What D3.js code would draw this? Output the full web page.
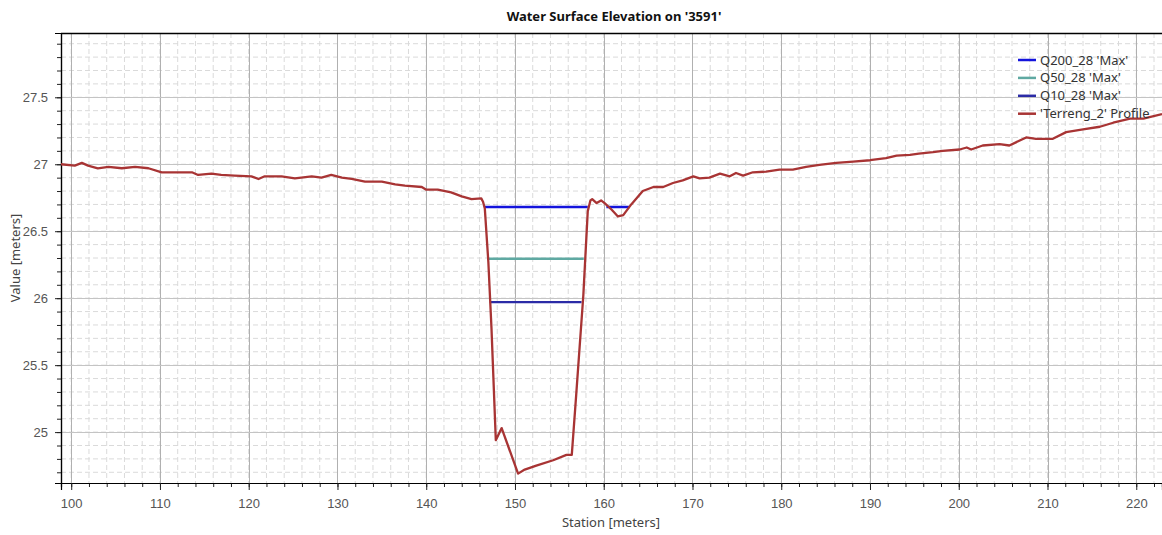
<!DOCTYPE html>
<html>
<head>
<meta charset="utf-8">
<script src="https://cdn.jsdelivr.net/npm/d3@7"></script>
<style>
  html, body { margin: 0; padding: 0; background: #fff; }
  svg { display: block; font-family: "Noto Sans", "Open Sans", sans-serif; }
</style>
</head>
<body>
<svg id="chart" width="1162" height="535"></svg>
<script>
// ---------- DATA ----------
const chartTitle = "Water Surface Elevation on '3591'";
const xAxisTitle = "Station [meters]";
const yAxisTitle = "Value [meters]";

const xTickValues = [100, 110, 120, 130, 140, 150, 160, 170, 180, 190, 200, 210, 220];
const yTickValues = [25, 25.5, 26, 26.5, 27, 27.5];

// Terrain profile 'Terreng_2'
const terrainStation = [
  98.85, 100.4, 101.2, 101.9, 103.0, 104.2, 105.7, 107.2, 108.7, 110.2,
  111.7, 113.6, 114.3, 115.8, 116.9, 118.4, 120.3, 121.1, 121.8, 123.7,
  125.2, 127.1, 128.2, 129.3, 130.5, 131.6, 133.1, 135.0, 136.5, 137.6,
  139.5, 140.0, 141.3, 142.8, 144.0, 145.1, 146.2, 146.4, 146.6, 147.0,
  147.35, 147.84, 148.5, 148.66, 150.35, 151.1, 152.4, 154.3, 155.8, 156.4,
  156.9, 157.7, 158.2, 158.5, 158.7, 159.2, 159.7, 160.1, 160.9, 161.6,
  162.2, 163.1, 164.4, 165.6, 166.7, 167.8, 168.9, 170.1, 170.8, 171.9,
  173.1, 174.2, 174.9, 175.7, 176.8, 178.3, 179.8, 181.3, 182.8, 184.3,
  186.2, 188.1, 190.0, 191.8, 193.0, 194.5, 195.5, 197.1, 198.2, 200.1,
  200.9, 201.4, 202.7, 204.6, 205.7, 207.6, 208.7, 210.6, 212.1, 214.0,
  215.9, 217.4, 219.3, 220.8, 222.9
];
const terrainElevation = [
  27.00, 26.99, 27.01, 26.99, 26.97, 26.98, 26.97, 26.98, 26.97, 26.94,
  26.94, 26.94, 26.92, 26.93, 26.92, 26.915, 26.91, 26.89, 26.91, 26.91,
  26.895, 26.91, 26.90, 26.92, 26.90, 26.89, 26.87, 26.87, 26.85, 26.84,
  26.83, 26.81, 26.81, 26.79, 26.76, 26.74, 26.745, 26.72, 26.67, 26.27,
  25.78, 24.94, 25.03, 25.00, 24.69, 24.72, 24.75, 24.79, 24.83, 24.83,
  25.28, 26.02, 26.65, 26.73, 26.74, 26.71, 26.73, 26.71, 26.66, 26.61,
  26.62, 26.70, 26.80, 26.83, 26.83, 26.86, 26.88, 26.91, 26.895, 26.90,
  26.93, 26.91, 26.935, 26.915, 26.94, 26.945, 26.96, 26.96, 26.98, 26.995,
  27.01, 27.02, 27.03, 27.045, 27.065, 27.07, 27.08, 27.09, 27.10, 27.11,
  27.125, 27.11, 27.14, 27.15, 27.14, 27.20, 27.19, 27.19, 27.24, 27.26,
  27.28, 27.31, 27.34, 27.34, 27.375
];

// Water surface profiles (null = break in line)
const q200Station = [146.6, 158.2, null, 160.3, 162.9];
const q200Elevation = [26.68, 26.68, null, 26.68, 26.68];
const q50Station = [146.86, 157.75];
const q50Elevation = [26.295, 26.295];
const q10Station = [147.15, 157.5];
const q10Elevation = [25.97, 25.97];

const seriesNames = ["Q200_28 'Max'", "Q50_28 'Max'", "Q10_28 'Max'", "'Terreng_2' Profile"];
const seriesColors = ["#1414dc", "#5fa9a2", "#2b2ba6", "#a83434"];

// ---------- LAYOUT ----------
const svg = d3.select("#chart");
const m = { left: 61, top: 33, right: 1162, bottom: 483 };

const x = d3.scaleLinear().domain([98.85, 222.9]).range([m.left, m.right]);
const y = d3.scaleLinear().domain([24.62, 27.98]).range([m.bottom, m.top]);

const xMinor = d3.range(100, 223, 2);
const yMinor = d3.range(247, 280, 1).map(v => v / 10);

// minor grid
const grid = svg.append("g");
grid.selectAll("line.xminor").data(xMinor).join("line")
  .attr("x1", d => x(d)).attr("x2", d => x(d)).attr("y1", m.top).attr("y2", m.bottom)
  .attr("stroke", "#dadada").attr("stroke-dasharray", "5,3").attr("stroke-width", 1);
grid.selectAll("line.yminor").data(yMinor).join("line")
  .attr("y1", d => y(d)).attr("y2", d => y(d)).attr("x1", m.left).attr("x2", m.right)
  .attr("stroke", "#dadada").attr("stroke-dasharray", "5,3").attr("stroke-width", 1);
// major grid
grid.selectAll("line.xmajor").data(xTickValues).join("line")
  .attr("x1", d => Math.round(x(d)) + 0.5).attr("x2", d => Math.round(x(d)) + 0.5)
  .attr("y1", m.top).attr("y2", m.bottom)
  .attr("stroke", "#b0b0b0").attr("stroke-width", 1);
grid.selectAll("line.ymajor").data(yTickValues).join("line")
  .attr("y1", d => Math.round(y(d)) + 0.5).attr("y2", d => Math.round(y(d)) + 0.5)
  .attr("x1", m.left).attr("x2", m.right)
  .attr("stroke", "#c4c4c4").attr("stroke-width", 1);

// axes
const fmt = d3.format("~g");
const xAxisMinor = svg.append("g").attr("transform", `translate(0,${m.bottom})`)
  .call(d3.axisBottom(x).tickValues(xMinor).tickSize(4).tickFormat(""));
const xAxis = svg.append("g").attr("transform", `translate(0,${m.bottom})`)
  .call(d3.axisBottom(x).tickValues(xTickValues).tickSize(7).tickPadding(9).tickFormat(fmt));
const yAxisMinor = svg.append("g").attr("transform", `translate(${m.left},0)`)
  .call(d3.axisLeft(y).tickValues(yMinor).tickSize(4).tickFormat(""));
const yAxis = svg.append("g").attr("transform", `translate(${m.left},0)`)
  .call(d3.axisLeft(y).tickValues(yTickValues).tickSize(6).tickPadding(7).tickFormat(fmt));

[xAxisMinor, xAxis, yAxisMinor, yAxis].forEach(g => {
  g.select(".domain").attr("stroke", "#000").attr("stroke-width", 1.2);
  g.selectAll(".tick line").attr("stroke", "#222");
  g.selectAll(".tick text").attr("fill", "#555").style("font-size", "13px");
});

// top border
svg.append("line").attr("x1", m.left).attr("x2", m.right).attr("y1", m.top + 0.5).attr("y2", m.top + 0.5)
  .attr("stroke", "#000").attr("stroke-width", 1.5);

// clip
svg.append("clipPath").attr("id", "plotclip").append("rect")
  .attr("x", m.left).attr("y", m.top).attr("width", m.right - m.left).attr("height", m.bottom - m.top);

const plot = svg.append("g").attr("clip-path", "url(#plotclip)");
const lineGen = d3.line()
  .defined(d => d[0] !== null && d[1] !== null)
  .x(d => x(d[0])).y(d => y(d[1]));

const series = [
  { st: q200Station, el: q200Elevation, color: seriesColors[0], w: 2.5 },
  { st: q50Station, el: q50Elevation, color: seriesColors[1], w: 2.5 },
  { st: q10Station, el: q10Elevation, color: seriesColors[2], w: 2.2 },
];
series.forEach(s => {
  plot.append("path").datum(s.st.map((v, i) => [v, s.el[i]]))
    .attr("d", lineGen).attr("fill", "none")
    .attr("stroke", s.color).attr("stroke-width", s.w);
});

// legend
const legend = svg.append("g");
seriesNames.forEach((name, i) => {
  const ly = 60 + i * 17.9;
  legend.append("line").attr("x1", 1018).attr("x2", 1036).attr("y1", ly).attr("y2", ly)
    .attr("stroke", seriesColors[i]).attr("stroke-width", 2.5);
  legend.append("text").attr("x", 1040).attr("y", ly).attr("dy", "0.35em")
    .attr("fill", "#333").style("font-size", "13px").text(name);
});

// terrain line
plot.append("path").datum(terrainStation.map((v, i) => [v, terrainElevation[i]]))
  .attr("d", lineGen).attr("fill", "none")
  .attr("stroke", seriesColors[3]).attr("stroke-width", 2.3).attr("stroke-linejoin", "round");

// titles
svg.append("text").attr("x", 614).attr("y", 21).attr("text-anchor", "middle")
  .style("font-size", "13px").style("font-weight", "bold").attr("fill", "#111").text(chartTitle);
svg.append("text").attr("x", 611).attr("y", 527).attr("text-anchor", "middle")
  .style("font-size", "13px").attr("fill", "#444").text(xAxisTitle);
svg.append("text").attr("transform", `translate(20,${(m.top + m.bottom) / 2}) rotate(-90)`)
  .attr("text-anchor", "middle").style("font-size", "13px").attr("fill", "#444").text(yAxisTitle);
</script>
</body>
</html>
